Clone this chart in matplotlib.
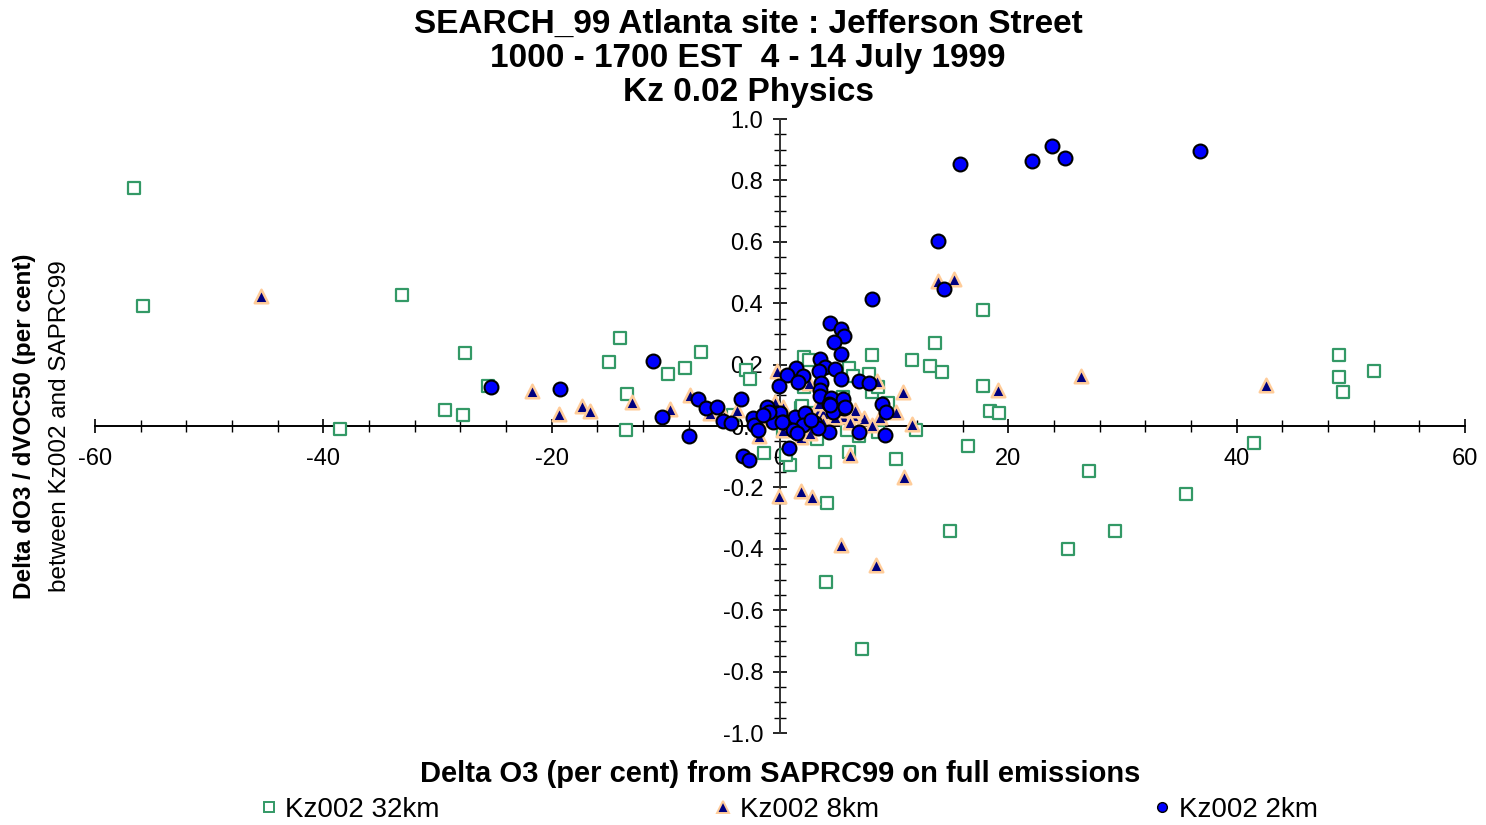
import matplotlib
matplotlib.use("Agg")
import matplotlib.pyplot as plt
from matplotlib.ticker import MultipleLocator, FormatStrFormatter
from matplotlib.lines import Line2D

plt.rcParams['font.family'] = ['Liberation Sans', 'DejaVu Sans']
plt.rcParams['axes.unicode_minus'] = False

# Kz002 32km runs
sq_x = [-56.6, -55.8, -33.1, -38.5, -27.6, -29.3, -27.8, -25.6, -15.0, -14.0,
        -13.4, -13.5, -9.8, -8.3, -6.9, -3.0, -2.6, 2.1, 2.5, 8.1,
        11.6, 6.0, 6.4, 7.8, 8.1, 8.6, 2.1, 9.5, 5.5, 3.2,
        -1.4, 0.9, 3.9, 6.0, 10.2, 6.9, 8.6, 11.9, 0.3, 1.8,
        2.8, 4.1, 4.0, 7.2, 13.6, 13.1, 14.2, 14.9, 16.5, 17.8,
        17.8, 18.4, 19.2, 27.1, 25.2, 29.3, 35.6, 41.5, 49.0, 49.0,
        49.3, 52.0, 5.9, -4.1, 1.9, 0.5]
sq_y = [0.775, 0.391, 0.427, -0.010, 0.238, 0.052, 0.036, 0.130, 0.208, 0.287,
        0.104, -0.013, 0.169, 0.189, 0.241, 0.182, 0.153, 0.225, 0.215, 0.231,
        0.215, 0.189, 0.163, 0.169, 0.111, 0.127, 0.127, 0.075, 0.094, -0.042,
        -0.088, -0.127, -0.117, -0.085, -0.107, -0.033, -0.020, -0.013, -0.016, 0.059,
        0.042, -0.251, -0.508, -0.726, 0.270, 0.195, 0.176, -0.342, -0.065, 0.378,
        0.130, 0.049, 0.042, -0.147, -0.401, -0.342, -0.221, -0.055, 0.231, 0.160,
        0.111, 0.179, -0.013, 0.036, 0.065, -0.094]

# Kz002 8km runs
tri_x = [-45.5, -21.7, -19.4, -17.3, -16.6, -13.0, -9.6, -7.9, -6.1, -4.9,
         -3.8, -1.8, -0.3, -0.1, 1.8, 2.8, 5.3, 6.1, 8.4, 10.8,
         10.9, 11.6, 13.8, 15.2, 19.1, 26.4, 42.6, 2.5, 8.5, 10.2,
         7.4, 8.8, 6.4, 5.5, 8.1, 3.4, 3.8, 1.8, -1.8, 0.3,
         -0.4, 0.9, 6.6, 5.3, 4.8, 3.4, 6.1, 2.6, 0.3, 3.8]
tri_y = [0.423, 0.114, 0.039, 0.065, 0.049, 0.078, 0.055, 0.101, 0.042, 0.033,
         0.052, -0.033, 0.179, -0.228, -0.212, -0.231, -0.388, -0.094, -0.453, 0.111,
         -0.166, 0.007, 0.472, 0.479, 0.117, 0.163, 0.134, 0.140, 0.147, 0.046,
         0.026, 0.029, 0.036, 0.033, 0.003, 0.052, 0.042, -0.036, 0.020, 0.062,
         0.078, 0.010, 0.052, 0.052, 0.029, 0.075, 0.013, -0.023, -0.013, 0.013]

# Kz002 2km runs
dot_x = [-25.3, -19.3, -11.1, -10.3, -8.0, -7.2, -6.5, -5.5, -5.0, -3.4,
         -4.3, -3.2, -2.7, 0.8, 4.4, 5.3, 5.6, 4.7, 5.3, 3.5,
         3.9, 4.8, 3.4, 1.4, 0.6, 2.0, 1.6, 5.3, 6.9, 7.8,
         -0.1, 3.6, 3.5, 3.5, 4.5, 5.5, 4.3, 5.6, 4.6, 8.9,
         9.3, 4.3, 6.9, 9.2, 8.1, 13.8, 14.4, 15.8, 22.1, 23.8,
         25.0, 36.8, -0.3, 0.0, -0.6, 0.3, 1.3, 2.2, 2.0, 1.1,
         1.5, 3.1, 3.3, 4.4, 5.7, -2.4, -2.3, -1.9, -1.1, -1.0,
         0.2, -1.5, 2.7]
dot_y = [0.127, 0.120, 0.212, 0.029, -0.033, 0.088, 0.059, 0.062, 0.016, 0.088,
         0.010, -0.098, -0.111, -0.072, 0.335, 0.316, 0.293, 0.274, 0.234, 0.218,
         0.192, 0.186, 0.179, 0.189, 0.166, 0.163, 0.143, 0.153, 0.147, 0.140,
         0.130, 0.140, 0.117, 0.098, 0.091, 0.088, 0.072, 0.059, 0.046, 0.072,
         0.046, -0.020, -0.020, -0.029, 0.414, 0.603, 0.446, 0.853, 0.863, 0.912,
         0.873, 0.896, 0.042, 0.042, 0.013, 0.013, 0.029, 0.042, 0.003, -0.013,
         -0.023, 0.010, -0.007, 0.068, 0.062, 0.026, 0.003, -0.013, 0.062, 0.046,
         0.013, 0.035, 0.020]

x_ticks = [-60, -40, -20, 0, 20, 40, 60]
y_ticks = [-1.0, -0.8, -0.6, -0.4, -0.2, 0.0, 0.2, 0.4, 0.6, 0.8, 1.0]

sq_edge = '#339966'
tri_face = '#000080'
tri_edge = '#FFCC99'
dot_face = '#0000FF'

fig = plt.figure(figsize=(14.86, 8.25), dpi=100)
ax = fig.add_axes([0.0639, 0.1115, 0.922, 0.7442])

ax.scatter(sq_x, sq_y, marker='s', s=70, facecolors='white',
           edgecolors=sq_edge, linewidths=1.6, zorder=3)
ax.scatter(tri_x, tri_y, marker='^', s=95, facecolors=tri_face,
           edgecolors=tri_edge, linewidths=1.8, zorder=4)
ax.scatter(dot_x, dot_y, marker='o', s=100, facecolors=dot_face,
           edgecolors='black', linewidths=1.5, zorder=5)

ax.set_xlim(-60, 60)
ax.set_ylim(-1.0, 1.0)

# axes cross at the origin
for side in ['top', 'right']:
    ax.spines[side].set_visible(False)
ax.spines['left'].set_position('zero')
ax.spines['bottom'].set_position('zero')
ax.spines['left'].set_color('#333333')
ax.spines['left'].set_linewidth(1.4)
ax.spines['bottom'].set_linewidth(1.4)

ax.set_xticks(x_ticks)
ax.set_yticks(y_ticks)
ax.xaxis.set_minor_locator(MultipleLocator(4))
ax.yaxis.set_minor_locator(MultipleLocator(0.05))
ax.yaxis.set_major_formatter(FormatStrFormatter('%.1f'))
ax.xaxis.set_major_formatter(FormatStrFormatter('%d'))
ax.tick_params(axis='both', which='major', direction='inout', length=10,
               width=1.2, labelsize=17)
ax.tick_params(axis='both', which='minor', direction='inout', length=8,
               width=1.0)
ax.tick_params(axis='x', which='major', pad=11)
ax.tick_params(axis='y', which='major', pad=7)

# titles and axis labels
fig.text(0.5034, 0.9710, 'SEARCH_99 Atlanta site : Jefferson Street',
         ha='center', va='center', fontsize=24, fontweight='bold')
fig.text(0.5034, 0.9285, '1000 - 1700 EST  4 - 14 July 1999',
         ha='center', va='center', fontsize=24, fontweight='bold')
fig.text(0.5034, 0.8875, 'Kz 0.02 Physics',
         ha='center', va='center', fontsize=24, fontweight='bold')

fig.text(0.5252, 0.0620, 'Delta O3 (per cent) from SAPRC99 on full emissions',
         ha='center', va='center', fontsize=21, fontweight='bold')
fig.text(0.0168, 0.4836, 'Delta dO3 / dVOC50 (per cent)', rotation=90,
         ha='center', va='center', fontsize=17.5, fontweight='bold')
fig.text(0.0404, 0.4836, 'between Kz002 and SAPRC99', rotation=90,
         ha='center', va='center', fontsize=17.5)

handles = [
    Line2D([], [], linestyle='none', marker='s', markersize=7,
           markerfacecolor='white', markeredgecolor=sq_edge, markeredgewidth=1.4),
    Line2D([], [], linestyle='none', marker='^', markersize=8,
           markerfacecolor=tri_face, markeredgecolor=tri_edge, markeredgewidth=1.4),
    Line2D([], [], linestyle='none', marker='o', markersize=7,
           markerfacecolor=dot_face, markeredgecolor='black', markeredgewidth=1.0),
]
fig.legend(handles, ['Kz002 32km', 'Kz002 8km', 'Kz002 2km'], ncol=3,
           loc='center', bbox_to_anchor=(0.531, 0.0180), frameon=False,
           fontsize=20, handlelength=0.6, handletextpad=0.3,
           columnspacing=9.9, borderpad=0)

fig.savefig('out.png', dpi=100, facecolor='white')
